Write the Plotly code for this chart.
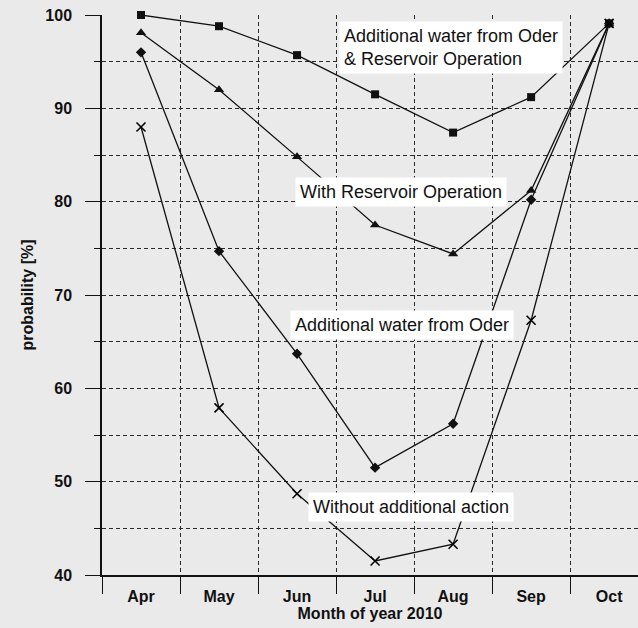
import plotly.graph_objects as go

months = ["Apr", "May", "Jun", "Jul", "Aug", "Sep", "Oct"]
oder_and_reservoir = [100.0, 98.8, 95.7, 91.5, 87.4, 91.2, 99.1]
with_reservoir = [98.1, 92.0, 84.8, 77.5, 74.4, 81.2, 99.1]
oder_only = [96.0, 74.7, 63.7, 51.5, 56.2, 80.2, 99.1]
without_action = [88.0, 57.9, 48.7, 41.5, 43.3, 67.3, 99.1]

series_names = [
    "Additional water from Oder & Reservoir Operation",
    "With Reservoir Operation",
    "Additional water from Oder",
    "Without additional action",
]
label_texts = [
    "Additional water from Oder<br>& Reservoir Operation",
    "With Reservoir Operation",
    "Additional water from Oder",
    "Without additional action",
]

xidx = list(range(len(months)))
fig = go.Figure()

styles = [
    dict(symbol="square", size=8),
    dict(symbol="triangle-up", size=9),
    dict(symbol="diamond", size=8),
    dict(symbol="x-thin", size=9, line=dict(width=1.6, color="black")),
]
for name, vals, st in zip(series_names,
                          [oder_and_reservoir, with_reservoir, oder_only, without_action],
                          styles):
    fig.add_trace(go.Scatter(
        x=xidx, y=vals, name=name, mode="lines+markers",
        line=dict(color="#111111", width=1.3),
        marker=dict(color="#111111", **st),
        cliponaxis=False,
    ))

label_pos = [(3.97, 96.5), (3.33, 81.0), (3.34, 66.8), (3.46, 47.3)]
for txt, (lx, ly) in zip(label_texts, label_pos):
    fig.add_annotation(
        x=lx, y=ly, xref="x", yref="y", text=txt, showarrow=False,
        align="left", bgcolor="white", borderpad=4,
        font=dict(family="Liberation Sans, Arial, sans-serif", size=18, color="#111111"),
    )

grid = dict(gridcolor="#2a2a2a", gridwidth=1, griddash="4px,3px")
bold = dict(family="Liberation Sans, Arial, sans-serif", size=16, color="#111111")

fig.update_layout(
    width=638, height=628,
    margin=dict(l=102, r=0, t=15, b=53),
    paper_bgcolor="#eaeaea", plot_bgcolor="#eaeaea",
    showlegend=False,
    font=bold,
    xaxis=dict(
        range=[-0.5, 6.37], tickmode="array", tickvals=xidx,
        ticktext=["<b>%s</b>" % m for m in months],
        showgrid=False, ticks="", zeroline=False, automargin=False,
        showline=True, linecolor="#111111", linewidth=1.5,
        tickfont=dict(size=16), ticklabelstandoff=6,
        minor=dict(tickmode="array", tickvals=[-0.5, 0.5, 1.5, 2.5, 3.5, 4.5, 5.5],
                   ticks="outside", ticklen=17, tickcolor="#111111", tickwidth=1.3,
                   showgrid=True, **grid),
        title=dict(text="<b>Month of year 2010</b>", standoff=0, font=dict(size=16)),
    ),
    yaxis=dict(
        range=[40, 100],
        tickmode="array",
        tickvals=[40, 50, 60, 70, 80, 90, 100],
        ticktext=["<b>%d</b>" % v for v in [40, 50, 60, 70, 80, 90, 100]],
        ticks="outside", ticklen=15, tickcolor="#111111", tickwidth=1.3,
        showgrid=True, zeroline=False, automargin=False,
        ticklabeloverflow="allow",
        showline=True, linecolor="#111111", linewidth=1.5,
        tickfont=dict(size=16), ticklabelstandoff=10,
        minor=dict(tickmode="array", tickvals=[45, 55, 65, 75, 85, 95],
                   ticks="outside", ticklen=6, tickcolor="#111111", tickwidth=1.3,
                   showgrid=True, **grid),
        title=dict(text="<b>probability [%]</b>", standoff=8, font=dict(size=16)),
        **grid,
    ),
)

fig.write_html(
    "out.html",
    config={"displayModeBar": False},
    post_script="document.body.style.margin='0';document.body.style.overflow='hidden';",
)
